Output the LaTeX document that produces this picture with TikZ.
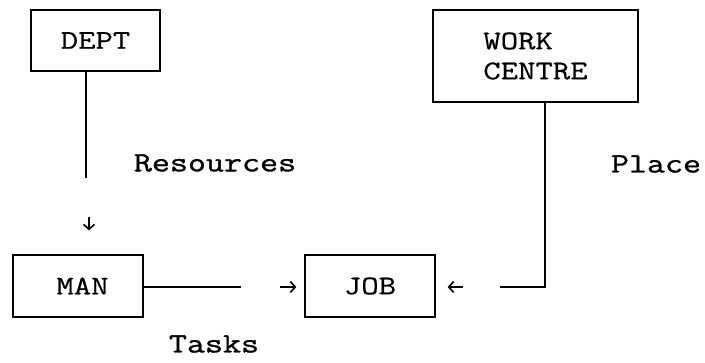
\documentclass[tikz,border=0pt]{standalone}
\usepackage{fontspec}
\newfontfamily\boxfont[FakeStretch=1.25,FakeBold=0.6]{Latin Modern Mono}
\newfontfamily\lblfont[FakeStretch=1.25,FakeBold=1.2]{Latin Modern Mono}
\usetikzlibrary{arrows.meta}
\begin{document}
\begin{tikzpicture}[x=1pt,y=-1pt,
  box/.style={draw,line width=1.2pt,inner sep=0pt,font=\boxfont\fontsize{27}{30}\selectfont},
  lbl/.style={inner sep=0pt,font=\lblfont\fontsize{28}{30}\selectfont},
  conn/.style={line width=1.5pt},
  tipline/.style={line width=1.6pt,-{Straight Barb[length=5pt,width=11pt,line width=1.6pt]}}]
\useasboundingbox (0,0) rectangle (705,363);
\node[box,minimum width=129pt,minimum height=61pt] (dept) at (95.5,40.5) {DEPT};
\node[box,minimum width=205pt,minimum height=92pt,align=left] (work) at (535.5,56) {WORK\\CENTRE};
\node[box,minimum width=130pt,minimum height=62pt] (man) at (78,286) {\hspace{9pt}MAN};
\node[box,minimum width=130pt,minimum height=62pt] (job) at (370,286) {JOB\hspace{14pt}};
\node[lbl] (res) at (215,163) {Resources};
\node[lbl] (place) at (656,164) {Place};
\node[lbl] (tasks) at (214,344) {Tasks};
\coordinate (r1) at (86,178);
\coordinate (a1) at (89,217);
\coordinate (t1) at (241,287);
\coordinate (t2) at (280,287);
\coordinate (p1) at (545,287);
\coordinate (p2) at (500,287);
\coordinate (p3) at (463,287);
\draw[conn] (dept.south -| r1) -- (r1);
\draw[tipline,shorten >=24pt] (a1) -- (man.north -| a1);
\draw[conn] (man.east |- t1) -- (t1);
\draw[tipline,shorten >=8pt] (t2) -- (job.west |- t2);
\draw[conn] (work.south -| p1) -- (p1) -- (p2);
\draw[tipline,shorten >=12pt] (p3) -- (job.east |- p3);
\end{tikzpicture}
\end{document}
